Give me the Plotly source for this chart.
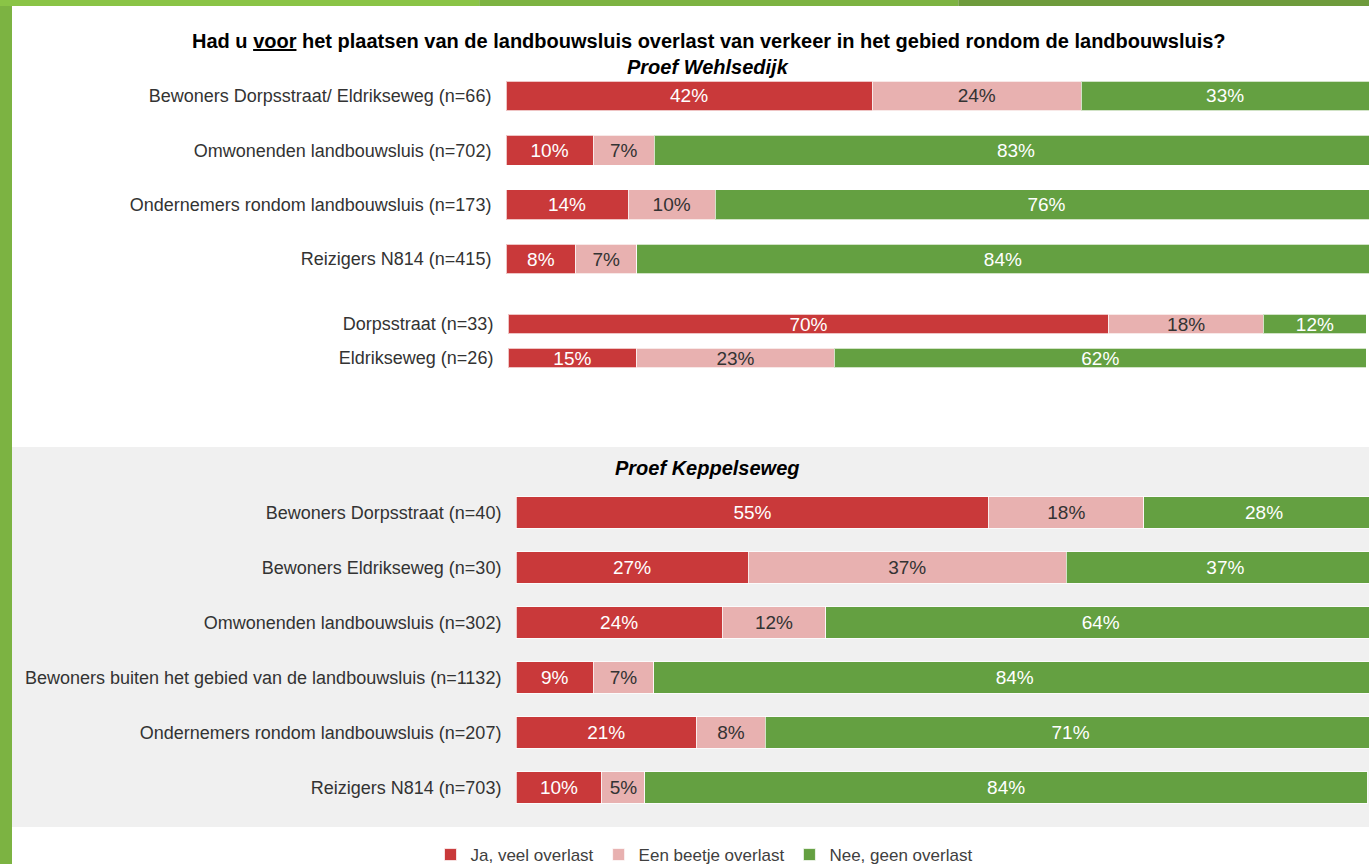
import plotly.graph_objects as go

# ---------------- data ----------------
series_names = ["Ja, veel overlast", "Een beetje overlast", "Nee, geen overlast"]

top_cats = ["Bewoners Dorpsstraat/ Eldrikseweg (n=66)",
            "Omwonenden landbouwsluis (n=702)",
            "Ondernemers rondom landbouwsluis (n=173)",
            "Reizigers N814 (n=415)"]
top_ja = [42, 10, 14, 8]
top_beetje = [24, 7, 10, 7]
top_nee = [33, 83, 76, 84]

mid_cats = ["Dorpsstraat (n=33)", "Eldrikseweg (n=26)"]
mid_ja = [70, 15]
mid_beetje = [18, 23]
mid_nee = [12, 62]

bot_cats = ["Bewoners Dorpsstraat (n=40)",
            "Bewoners Eldrikseweg (n=30)",
            "Omwonenden landbouwsluis (n=302)",
            "Bewoners buiten het gebied van de landbouwsluis (n=1132)",
            "Ondernemers rondom landbouwsluis (n=207)",
            "Reizigers N814 (n=703)"]
bot_ja = [55, 27, 24, 9, 21, 10]
bot_beetje = [18, 37, 12, 7, 8, 5]
bot_nee = [28, 37, 64, 84, 71, 84]

title_text = "Had u <u>voor</u> het plaatsen van de landbouwsluis overlast van verkeer in het gebied rondom de landbouwsluis?"
sub1 = "Proef Wehlsedijk"
sub2 = "Proef Keppelseweg"

# ---------------- style ----------------
W, H = 1369, 864
colors = ["#C9393A", "#E8B1B0", "#64A041"]
text_colors = ["white", "#333333", "white"]
FONT = "Liberation Sans, Arial, sans-serif"
LABEL_COLOR = "#333333"
BAR_FS = 19


def py(px):
    return 1 - px / H


fig = go.Figure()

panels = [
    ("", top_cats, [top_ja, top_beetje, top_nee], 0.55),
    ("2", mid_cats, [mid_ja, mid_beetje, mid_nee], 0.56),
    ("3", bot_cats, [bot_ja, bot_beetje, bot_nee], 0.565),
]

for pi, (suf, cats, vals, bw) in enumerate(panels):
    for si, name in enumerate(series_names):
        fig.add_trace(go.Bar(
            y=cats, x=vals[si], name=name, orientation="h",
            marker=dict(color=colors[si], line=dict(color="rgba(255,255,255,0.7)", width=1)),
            width=bw,
            text=vals[si], texttemplate="%{x}%",
            textposition="inside", insidetextanchor="middle",
            textfont=dict(color=text_colors[si], size=BAR_FS, family=FONT),
            xaxis="x" + suf, yaxis="y" + suf,
            showlegend=(pi == 0), legendgroup=name,
            hoverinfo="skip",
        ))

axis_common_x = dict(showgrid=False, zeroline=False, showticklabels=False, showline=False, fixedrange=True)
axis_common_y = dict(showgrid=False, zeroline=False, showline=False, autorange="reversed",
                     ticks="outside", ticklen=10, tickcolor="rgba(0,0,0,0)",
                     tickfont=dict(family=FONT, size=18, color=LABEL_COLOR), fixedrange=True)

fig.update_layout(
    width=W, height=H, autosize=False,
    margin=dict(l=0, r=0, t=0, b=0, autoexpand=False),
    paper_bgcolor="white", plot_bgcolor="rgba(0,0,0,0)",
    barmode="stack",
    font=dict(family=FONT, color=LABEL_COLOR),
    uniformtext=dict(minsize=BAR_FS, mode="show"),
    xaxis=dict(domain=[506 / W, 1], range=[0, 99], anchor="y", **axis_common_x),
    yaxis=dict(domain=[py(286.2), py(68.8)], anchor="x", **axis_common_y),
    xaxis2=dict(domain=[508 / W, 1], range=[0, 100.3], anchor="y2", **axis_common_x),
    yaxis2=dict(domain=[py(375), py(307)], anchor="x2", **axis_common_y),
    xaxis3=dict(domain=[516 / W, 1], range=[0, 99.2], anchor="y3", **axis_common_x),
    yaxis3=dict(domain=[py(815), py(485)], anchor="x3", **axis_common_y),
    legend=dict(orientation="h", x=704 / W, xanchor="center", y=py(855), yanchor="middle",
                font=dict(family=FONT, size=17, color="#404040"), bgcolor="rgba(0,0,0,0)",
                traceorder="normal", itemwidth=30, tracegroupgap=0),
    shapes=[
        # grey background of lower panel
        dict(type="rect", xref="paper", yref="paper", x0=0, x1=1, y0=py(827), y1=py(447),
             fillcolor="#F0F0F0", line=dict(width=0), layer="below"),
        # green frame: left and top band
        dict(type="rect", xref="paper", yref="paper", x0=0, x1=12 / W, y0=0, y1=1,
             fillcolor="#7CB342", line=dict(width=0), layer="above"),
        dict(type="rect", xref="paper", yref="paper", x0=0, x1=0.35, y0=py(6), y1=1,
             fillcolor="#8AC446", line=dict(width=0), layer="above"),
        dict(type="rect", xref="paper", yref="paper", x0=0.35, x1=0.7, y0=py(6), y1=1,
             fillcolor="#7DB342", line=dict(width=0), layer="above"),
        dict(type="rect", xref="paper", yref="paper", x0=0.7, x1=1, y0=py(6), y1=1,
             fillcolor="#6E9B3C", line=dict(width=0), layer="above"),
    ],
    annotations=[
        dict(text="<b>" + title_text + "</b>", x=709 / W, y=py(41), xref="paper", yref="paper",
             showarrow=False, font=dict(family=FONT, size=20, color="black"),
             xanchor="center", yanchor="middle"),
        dict(text="<b><i>" + sub1 + "</i></b>", x=708 / W, y=py(67), xref="paper", yref="paper",
             showarrow=False, font=dict(family=FONT, size=20, color="black"),
             xanchor="center", yanchor="middle"),
        dict(text="<b><i>" + sub2 + "</i></b>", x=708 / W, y=py(468), xref="paper", yref="paper",
             showarrow=False, font=dict(family=FONT, size=20, color="black"),
             xanchor="center", yanchor="middle"),
    ],
)

fig.write_html(
    "out.html",
    config=dict(displayModeBar=False, responsive=False),
    post_script=(
        "document.documentElement.style.margin='0';"
        "document.documentElement.style.overflow='hidden';"
        "document.body.style.margin='0';"
        "document.body.style.overflow='hidden';"
    ),
)
